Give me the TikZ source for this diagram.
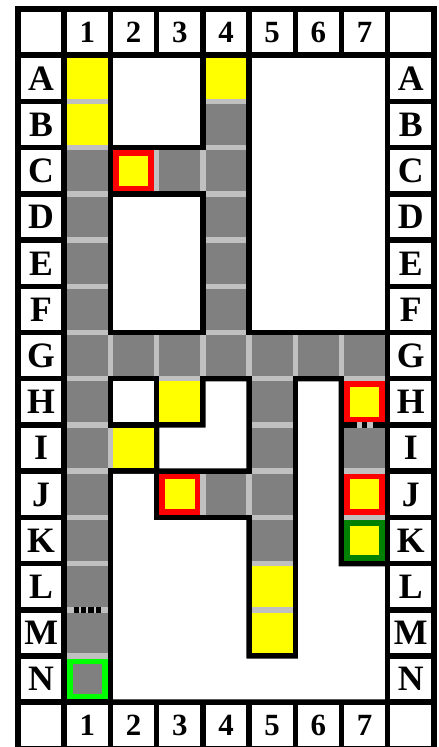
\documentclass[tikz,border=0pt]{standalone}
\usepackage{fontspec}
\setmainfont{Liberation Serif}
\definecolor{pathgray}{HTML}{808080}
\definecolor{sepgray}{HTML}{C0C0C0}
\definecolor{gold}{HTML}{FFFF00}
\definecolor{wallred}{HTML}{FF0000}
\definecolor{litegreen}{HTML}{00FF00}
\definecolor{darkgrn}{HTML}{008000}
\newcommand\mapcell[3]{\fill[#3] (#1+\h,-#2-\h) rectangle (#1+1-\h,-#2-1+\h);}
\newcommand\ringcell[4]{\fill[#3] (#1+\h,-#2-\h) rectangle (#1+1-\h,-#2-1+\h);
  \fill[#4] (#1+\h+\rw,-#2-\h-\rw) rectangle (#1+1-\h-\rw,-#2-1+\h+\rw);}
\newcommand\vopen[2]{\fill[sepgray] (#1+\h,-#2-1-\h) rectangle (#1+1-\h,-#2-1+\h);}
\newcommand\hopen[2]{\fill[sepgray] (#1+1-\h,-#2-\h) rectangle (#1+1+\h,-#2-1+\h);}
\begin{document}
\begin{tikzpicture}[x=1cm,y=1cm,
  letter/.style={font=\fontsize{22}{22}\selectfont\bfseries, text height=14.6pt, text depth=0pt, inner sep=0pt},
  digit/.style={font=\fontsize{19}{19}\selectfont\bfseries, text height=12.8pt, text depth=0pt, inner sep=0pt}]
\def\h{0.06}
\def\rw{0.12}
\useasboundingbox (-0.39,0.195) rectangle (9.089,-15.97);
% outer black frame / walls
\fill[black] (-0.065,0.065) rectangle (9.065,-16.065);
% label cells
\foreach \c in {0,...,8} {
  \fill[white] (\c+\h,-\h) rectangle (\c+1-\h,-1+\h);
  \fill[white] (\c+\h,-15-\h) rectangle (\c+1-\h,-16+\h);
}
\foreach \r in {1,...,14} {
  \fill[white] (\h,-\r-\h) rectangle (1-\h,-\r-1+\h);
  \fill[white] (8+\h,-\r-\h) rectangle (9-\h,-\r-1+\h);
}
\foreach \n in {1,...,7} {
  \node[digit] (top\n) at (\n+0.5,-0.5) {\n};
  \node[digit] (bot\n) at (\n+0.5,-15.5) {\n};
}
\foreach \L [count=\r] in {A,B,C,D,E,F,G,H,I,J,K,L,M,N} {
  \node[letter] (left\L) at (0.5,-\r-0.5) {\L};
  \node[letter] (right\L) at (8.5,-\r-0.5) {\L};
}
% white rooms
\fill[white] (2+\h,-1-\h) rectangle (4-\h,-3+\h);
\fill[white] (5+\h,-1-\h) rectangle (8-\h,-7+\h);
\fill[white] (2+\h,-4-\h) rectangle (4-\h,-7+\h);
\fill[white] (2+\h,-8-\h) rectangle (3-\h,-9+\h);
\fill[white] (4+\h,-8-\h) -- (5-\h,-8-\h) -- (5-\h,-10+\h) -- (3+\h,-10+\h)
  -- (3+\h,-9-\h) -- (4+\h,-9-\h) -- cycle;
\fill[white] (2+\h,-10-\h) -- (3-\h,-10-\h) -- (3-\h,-11-\h) -- (5-\h,-11-\h)
  -- (5-\h,-14-\h) -- (6+\h,-14-\h) -- (6+\h,-8-\h) -- (7-\h,-8-\h)
  -- (7-\h,-12-\h) -- (8-\h,-12-\h) -- (8-\h,-15+\h) -- (2+\h,-15+\h) -- cycle;
% gray corridor cells
\foreach \c/\r in {1/3,1/4,1/5,1/6,1/8,1/9,1/10,1/11,1/12,1/13,
  4/2,4/3,4/4,4/5,4/6,3/3,
  1/7,2/7,3/7,4/7,5/7,6/7,7/7,
  5/8,5/9,7/9,4/10,5/10,5/11} {\mapcell{\c}{\r}{pathgray}}
% plain yellow cells
\foreach \c/\r in {1/1,1/2,4/1,3/8,2/9,5/12,5/13} {\mapcell{\c}{\r}{gold}}
% ringed cells
\foreach \c/\r in {2/3,7/8,3/10,7/10} {\ringcell{\c}{\r}{wallred}{gold}}
\ringcell{7}{11}{darkgrn}{gold}
\ringcell{1}{14}{litegreen}{pathgray}
% open passages (vertical)
\foreach \c/\r in {1/1,1/2,1/3,1/4,1/5,1/6,1/7,1/8,1/9,1/10,1/11,1/13,
  4/1,4/2,4/3,4/4,4/5,4/6,3/7,
  5/7,5/8,5/9,5/10,5/11,5/12,
  7/7,7/9,7/10} {\vopen{\c}{\r}}
% open passages (horizontal)
\foreach \c/\r in {2/3,3/3,1/7,2/7,3/7,4/7,5/7,6/7,1/9,3/10,4/10} {\hopen{\c}{\r}}
% special passage L1/M1
\vopen{1}{12}
\foreach \dx in {-0.24,-0.08,0.08,0.24}
  \fill[black] (1.5+\dx-0.055,-13-\h) rectangle (1.5+\dx+0.055,-13+\h);
% special passage H7/I7
\foreach \dx in {-0.115,0.115}
  \fill[sepgray] (7.5+\dx-0.057,-9-\h) rectangle (7.5+\dx+0.057,-9+\h);
\end{tikzpicture}
\end{document}
